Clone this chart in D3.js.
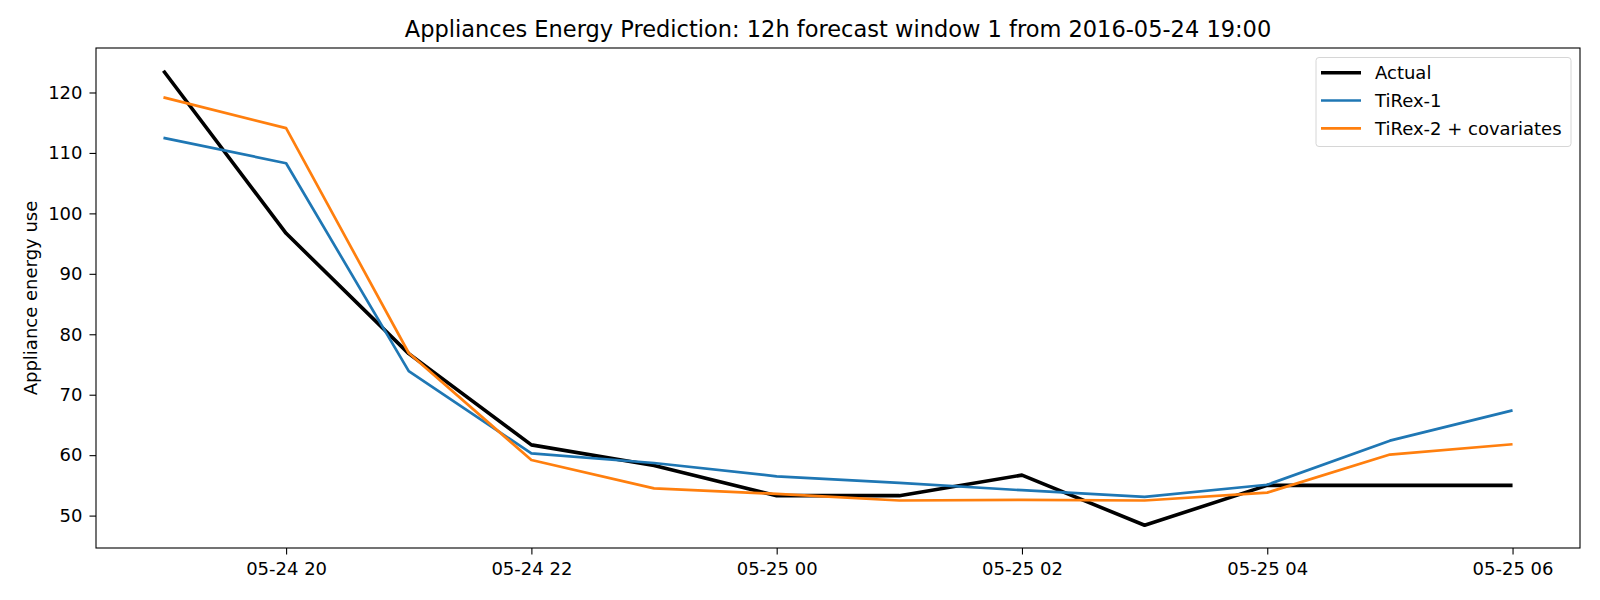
<!DOCTYPE html>
<html>
<head>
<meta charset="utf-8">
<script src="https://cdn.jsdelivr.net/npm/d3@7/dist/d3.min.js"></script>
<style>
  body { margin: 0; background: #fff; }
  svg { display: block; font-family: "DejaVu Sans", sans-serif; }
</style>
</head>
<body>
<div id="chart"></div>
<script>
// hourly timestamps, 12h window
const times = ["2016-05-24T19:00", "2016-05-24T20:00", "2016-05-24T21:00", "2016-05-24T22:00",
  "2016-05-24T23:00", "2016-05-25T00:00", "2016-05-25T01:00", "2016-05-25T02:00",
  "2016-05-25T03:00", "2016-05-25T04:00", "2016-05-25T05:00", "2016-05-25T06:00"]

const actual = [123.6, 96.7, 76.8, 61.7, 58.3, 53.3, 53.3, 56.7, 48.4, 55.0, 55.0, 55.0]
const tirex1 = [112.5, 108.3, 73.9, 60.3, 58.7, 56.5, 55.4, 54.2, 53.1, 55.1, 62.4, 67.4]
const tirex2 = [119.2, 114.1, 76.9, 59.2, 54.5, 53.6, 52.5, 52.6, 52.5, 53.8, 60.1, 61.8]

const yTicks = [50, 60, 70, 80, 90, 100, 110, 120]
const xTicks = ["2016-05-24T20:00", "2016-05-24T22:00", "2016-05-25T00:00",
  "2016-05-25T02:00", "2016-05-25T04:00", "2016-05-25T06:00"]

const series = [
  { label: "Actual", values: actual, color: "#000000", width: 3.6 },
  { label: "TiRex-1", values: tirex1, color: "#1f77b4", width: 2.7 },
  { label: "TiRex-2 + covariates", values: tirex2, color: "#ff7f0e", width: 2.7 },
]

const W = 1600, H = 600
const margin = { top: 48, right: 20, bottom: 52, left: 96 }
const iw = W - margin.left - margin.right
const ih = H - margin.top - margin.bottom
const FONT = "18px"

const parse = d3.timeParse("%Y-%m-%dT%H:%M")
const dates = times.map(parse)

// matplotlib-style 5% padding
const tExt = d3.extent(dates)
const tPad = (tExt[1] - tExt[0]) * 0.05
const x = d3.scaleTime()
  .domain([new Date(+tExt[0] - tPad), new Date(+tExt[1] + tPad)])
  .range([0, iw])

const all = actual.concat(tirex1, tirex2)
const yMin = d3.min(all), yMax = d3.max(all)
const yPad = (yMax - yMin) * 0.05
const y = d3.scaleLinear().domain([yMin - yPad, yMax + yPad]).range([ih, 0])

const svg = d3.select("#chart").append("svg")
  .attr("width", W).attr("height", H)

const g = svg.append("g").attr("transform", `translate(${margin.left},${margin.top})`)

// Axes
const fmt = d3.timeFormat("%m-%d %H")
const xAxis = g.append("g")
  .attr("transform", `translate(0,${ih})`)
  .call(d3.axisBottom(x).tickValues(xTicks.map(parse)).tickFormat(fmt).tickSize(6.5).tickPadding(7.5))
const yAxis = g.append("g")
  .call(d3.axisLeft(y).tickValues(yTicks).tickSize(6.5).tickPadding(7))

;[xAxis, yAxis].forEach(a => {
  a.select(".domain").remove()
  a.selectAll("line").attr("stroke", "#000").attr("stroke-width", 1.1)
  a.selectAll("text").attr("fill", "#000").attr("font-size", FONT)
    .attr("font-family", "DejaVu Sans")
})

// Lines
const line = d3.line()
  .x((d, i) => x(dates[i]))
  .y(d => y(d))

series.forEach(s => {
  g.append("path")
    .datum(s.values)
    .attr("fill", "none")
    .attr("stroke", s.color)
    .attr("stroke-width", s.width)
    .attr("stroke-linejoin", "round")
    .attr("d", line)
})

// Frame
g.append("rect")
  .attr("width", iw).attr("height", ih)
  .attr("fill", "none").attr("stroke", "#000").attr("stroke-width", 1.1)

// Title & label
svg.append("text")
  .attr("x", margin.left + iw / 2).attr("y", 36.5)
  .attr("text-anchor", "middle")
  .attr("font-size", "22.5px")
  .text("Appliances Energy Prediction: 12h forecast window 1 from 2016-05-24 19:00")

svg.append("text")
  .attr("transform", `translate(36.5,${margin.top + ih / 2}) rotate(-90)`)
  .attr("text-anchor", "middle")
  .attr("font-size", FONT)
  .text("Appliance energy use")

// Legend
const legend = svg.append("g").attr("transform", "translate(1316,57.5)")
legend.append("rect")
  .attr("width", 255).attr("height", 89).attr("rx", 3)
  .attr("fill", "#fff").attr("fill-opacity", 0.8)
  .attr("stroke", "#d6d6d6").attr("stroke-width", 1)

series.forEach((s, i) => {
  const row = legend.append("g").attr("transform", `translate(0,${15.2 + i * 27.8})`)
  row.append("line")
    .attr("x1", 5).attr("x2", 45)
    .attr("stroke", s.color).attr("stroke-width", s.width)
  row.append("text")
    .attr("x", 59).attr("y", 6.5)
    .attr("font-size", FONT)
    .text(s.label)
})
</script>
</body>
</html>
